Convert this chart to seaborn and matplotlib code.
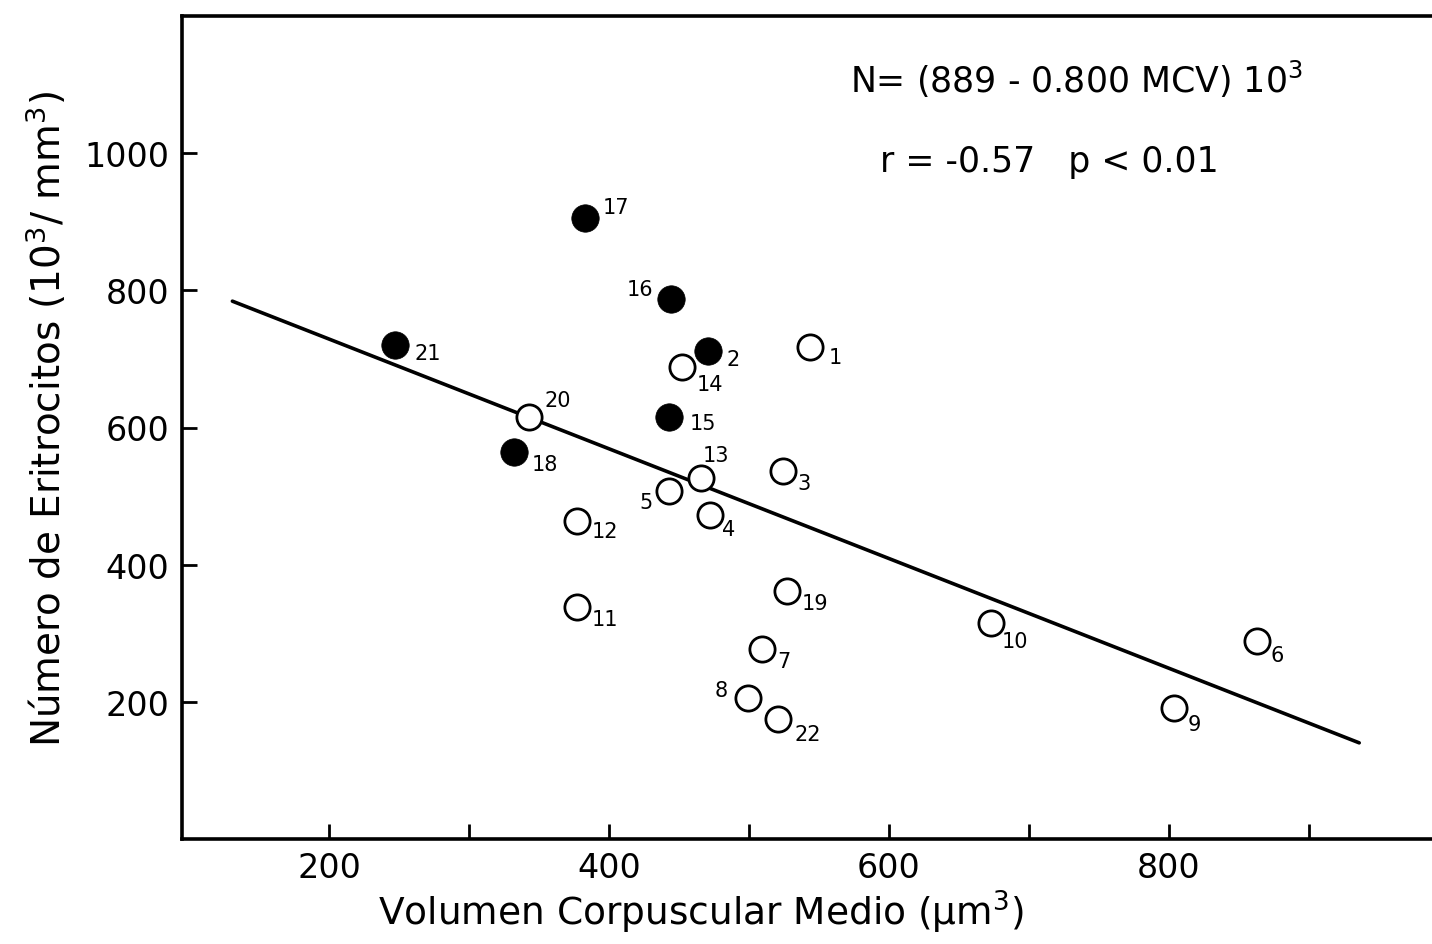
import matplotlib
matplotlib.use("Agg")
import matplotlib.pyplot as plt
import seaborn as sns
import pandas as pd
import numpy as np

# ---- data ----
filled_ids = ["17", "16", "21", "2", "15", "18"]
filled_mcv = [383, 444, 247, 471, 443, 332]
filled_n = [905, 787, 720, 711, 616, 565]

open_ids = ["1", "14", "20", "13", "3", "5", "4", "12", "11", "19", "7", "8", "22", "10", "6", "9"]
open_mcv = [544, 452, 343, 466, 524, 443, 472, 377, 377, 527, 509, 499, 521, 673, 863, 804]
open_n = [717, 688, 615, 527, 536, 508, 473, 463, 339, 361, 277, 206, 175, 315, 289, 191]

reg_intercept = 889
reg_slope = -0.800
reg_x = [131, 936]

x_ticks = [200, 400, 600, 800]
x_minor = [300, 500, 700, 900]
y_ticks = [200, 400, 600, 800, 1000]

# label placement (pixels offset, horizontal alignment)
label_style = {
    "17": (18, 11, "left"), "16": (-17, 10, "right"), "21": (20, -8, "left"),
    "2": (18, -8, "left"), "15": (21, -6, "left"), "18": (18, -12, "left"),
    "1": (18, -10, "left"), "14": (15, -17, "left"), "20": (15, 17, "left"),
    "13": (1, 23, "left"), "3": (15, -12, "left"), "5": (-16, -11, "right"),
    "4": (12, -14, "left"), "12": (15, -10, "left"), "11": (15, -12, "left"),
    "19": (15, -12, "left"), "7": (16, -12, "left"), "8": (-20, 8, "right"),
    "22": (16, -15, "left"), "10": (11, -18, "left"), "6": (13, -14, "left"),
    "9": (13, -16, "left"),
}

sns.set_style("white")
plt.rcParams["font.family"] = ["DejaVu Sans"]
plt.rcParams["mathtext.fontset"] = "dejavusans"
for key in ["text.color", "axes.labelcolor", "xtick.color", "ytick.color"]:
    plt.rcParams[key] = "black"

fig = plt.figure(figsize=(14.32, 9.45), dpi=100)
ax = fig.add_axes([182 / 1432, 105 / 945, 1250 / 1432, 823 / 945])

df_f = pd.DataFrame({"MCV": filled_mcv, "N": filled_n, "id": filled_ids})
df_o = pd.DataFrame({"MCV": open_mcv, "N": open_n, "id": open_ids})
reg_y = [reg_intercept + reg_slope * v for v in reg_x]
df_l = pd.DataFrame({"MCV": reg_x, "N": reg_y})

sns.lineplot(data=df_l, x="MCV", y="N", color="black", linewidth=2.6, ax=ax, zorder=1)
sns.scatterplot(data=df_o, x="MCV", y="N", s=330, facecolor="white", edgecolor="black",
                linewidth=2.0, ax=ax, zorder=3)
sns.scatterplot(data=df_f, x="MCV", y="N", s=390, color="black", edgecolor="black",
                linewidth=0.5, ax=ax, zorder=3)

for df in (df_f, df_o):
    for _, r in df.iterrows():
        dx, dy, ha = label_style[r["id"]]
        ax.annotate(r["id"], (r["MCV"], r["N"]), xytext=(dx, dy), textcoords="offset pixels",
                    ha=ha, va="center", fontsize=15, color="black")

ax.set_xlim(95, 988)
ax.set_ylim(0, 1200)
ax.set_xticks(x_ticks)
ax.set_xticks(x_minor, minor=True)
ax.set_yticks(y_ticks)
ax.tick_params(axis="both", which="both", direction="in", length=11, width=2,
               color="black", labelcolor="black", labelsize=24, pad=9)
ax.tick_params(left=True, bottom=True, which="both")

for side in ["left", "bottom", "top"]:
    ax.spines[side].set_linewidth(2.6)
    ax.spines[side].set_color("black")
ax.spines["right"].set_visible(False)

ax.set_xlabel("Volumen Corpuscular Medio (µm$^3$)", fontsize=27, color="black")
ax.set_ylabel("Número de Eritrocitos (10$^3$/ mm$^3$)", fontsize=28, color="black")
ax.xaxis.label.set_va("center")
ax.yaxis.label.set_va("center")
ax.xaxis.set_label_coords((701 - 182) / 1250, (840 - 912) / 823)
ax.yaxis.set_label_coords((47 - 182) / 1250, (840 - 419) / 823)

ax.text((850 - 182) / 1250, (840 - 79) / 823, "N= (889 - 0.800 MCV) 10$^3$",
        transform=ax.transAxes, ha="left", va="center", fontsize=25, color="black")
ax.text((880 - 182) / 1250, (840 - 162) / 823, "r = -0.57   p < 0.01",
        transform=ax.transAxes, ha="left", va="center", fontsize=25, color="black")

fig.savefig("out.png", dpi=100)
